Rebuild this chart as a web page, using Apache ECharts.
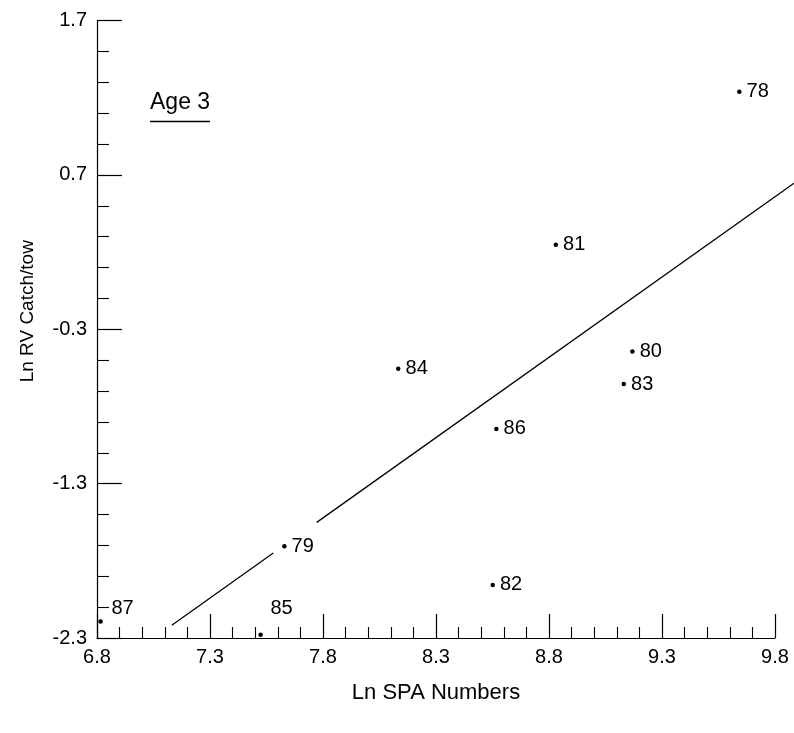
<!DOCTYPE html>
<html>
<head>
<meta charset="utf-8">
<title>Age 3 — Ln RV Catch/tow vs Ln SPA Numbers</title>
<script src="https://cdn.jsdelivr.net/npm/echarts@6/dist/echarts.min.js"></script>
<style>
  html, body { margin: 0; padding: 0; background: #fff; }
  #chart { width: 794px; height: 733px; }
</style>
</head>
<body>
<div id="chart"></div>
<script>
// Year-class labels and their coordinates (ln SPA numbers, ln RV catch per tow)
const years   = ['78', '79', '80', '81', '82', '83', '84', '85', '86', '87'];
const lnSpa   = [9.642, 7.629, 9.169, 8.830, 8.551, 9.131, 8.133, 7.524, 8.567, 6.816];
const lnCatch = [1.239, -1.706, -0.444, 0.247, -1.956, -0.655, -0.556, -2.279, -0.946, -2.193];

// Fitted regression line, drawn in two pieces around the "79" label
const fitLowX  = [7.131, 7.580];
const fitLowY  = [-2.217, -1.749];
const fitHighX = [7.772, 9.884];
const fitHighY = [-1.551, 0.646];

// Axis extents and tick steps
const xMin = 6.8, xMax = 9.8, xStep = 0.5;
const yMin = -2.3, yMax = 1.7, yStep = 1.0;

const FONT = '"Liberation Sans", Arial, Helvetica, sans-serif';
const INK = '#000000';

// Labels that sit above the point instead of to its right
const labelOverrides = {
  '85': { position: 'top', offset: [21, -9] },
  '87': { position: 'top', offset: [22, 4] }
};

const points = years.map((y, i) => {
  const item = { name: y, value: [lnSpa[i], lnCatch[i]] };
  if (labelOverrides[y]) item.label = labelOverrides[y];
  return item;
});

// Each row is one straight piece of the fit: [xStart, yStart, xEnd, yEnd]
const fitSegments = [
  [fitLowX[0], fitLowY[0], fitLowX[1], fitLowY[1]],
  [fitHighX[0], fitHighY[0], fitHighX[1], fitHighY[1]]
];

const chart = echarts.init(document.getElementById('chart'), null, { renderer: 'canvas' });

chart.setOption({
  backgroundColor: '#ffffff',
  animation: false,
  textStyle: { fontFamily: FONT, color: INK },
  grid: { left: 97, right: 19, top: 20.5, bottom: 95, containLabel: false },
  xAxis: {
    type: 'value',
    min: xMin, max: xMax, interval: xStep,
    name: 'Ln SPA Numbers',
    nameLocation: 'middle',
    nameGap: 44,
    nameTextStyle: { fontSize: 22, color: INK, fontFamily: FONT },
    axisLine: { show: true, onZero: false, lineStyle: { color: INK, width: 1.2 } },
    axisTick: { show: true, inside: true, length: 24, lineStyle: { color: INK, width: 1.2 } },
    minorTick: { show: true, splitNumber: 5, length: 11, lineStyle: { color: INK, width: 1.1 } },
    axisLabel: { fontSize: 20, color: INK, margin: 9, fontFamily: FONT,
      formatter: v => v.toFixed(1), showMinLabel: true, showMaxLabel: true },
    splitLine: { show: false },
    minorSplitLine: { show: false }
  },
  yAxis: {
    type: 'value',
    min: yMin, max: yMax, interval: yStep,
    name: 'Ln RV Catch/tow',
    nameLocation: 'middle',
    nameGap: 60,
    nameTextStyle: { fontSize: 19, color: INK, fontFamily: FONT, padding: [0, 0, 0, 36] },
    axisLine: { show: true, onZero: false, lineStyle: { color: INK, width: 1.2 } },
    axisTick: { show: true, inside: true, length: 25, lineStyle: { color: INK, width: 1.2 } },
    minorTick: { show: true, splitNumber: 5, length: 12, lineStyle: { color: INK, width: 1.1 } },
    axisLabel: { fontSize: 20, color: INK, margin: 10, fontFamily: FONT,
      formatter: v => v.toFixed(1), showMinLabel: true, showMaxLabel: true },
    splitLine: { show: false },
    minorSplitLine: { show: false }
  },
  graphic: [
    {
      type: 'text', left: 150, top: 91,
      style: { text: 'Age 3', fontSize: 23, fontFamily: FONT, fill: INK }
    },
    {
      type: 'line',
      shape: { x1: 150, y1: 121.5, x2: 210, y2: 121.5 },
      style: { stroke: INK, lineWidth: 1.4 }
    }
  ],
  series: [
    {
      // Regression line pieces, placed through the axes' own scales
      type: 'custom',
      data: fitSegments,
      clip: false,
      silent: true,
      renderItem: (params, api) => {
        const a = api.coord([api.value(0), api.value(1)]);
        const b = api.coord([api.value(2), api.value(3)]);
        return {
          type: 'line',
          shape: { x1: a[0], y1: a[1], x2: b[0], y2: b[1] },
          style: { stroke: INK, lineWidth: 1.3 }
        };
      }
    },
    {
      type: 'scatter',
      data: points,
      symbol: 'circle',
      symbolSize: 4.5,
      clip: false,
      itemStyle: { color: INK, opacity: 1 },
      label: {
        show: true,
        position: 'right',
        distance: 5,
        formatter: p => p.name,
        fontSize: 20,
        color: INK,
        opacity: 1,
        fontFamily: FONT
      }
    }
  ]
});
</script>
</body>
</html>
